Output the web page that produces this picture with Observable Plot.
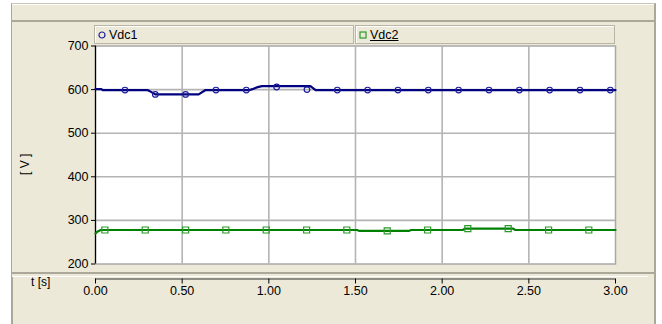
<!DOCTYPE html>
<html>
<head>
<meta charset="utf-8">
<script src="https://cdn.jsdelivr.net/npm/d3@7"></script>
<script src="https://cdn.jsdelivr.net/npm/@observablehq/plot@0.6"></script>
<style>
  html, body { margin: 0; padding: 0; background: #ffffff; }
  #wrap { position: relative; width: 662px; height: 324px; overflow: hidden; font-family: "Liberation Sans", Arial, sans-serif; }
  .abs { position: absolute; box-sizing: border-box; }
  #chart { position: absolute; left: 0; top: 0; }
  .leg { position: absolute; box-sizing: border-box; height: 19px; top: 25px; background: #ECE9D8;
         border: 1px solid #b9b5a6; box-shadow: inset 1px 1px 0 #ffffff; font-size: 12.5px; color: #000; }
  .leg svg { position: absolute; left: 3px; top: 5px; }
  .leg span { position: absolute; left: 14px; top: 2px; }
</style>
</head>
<body>
<div id="wrap">
  <!-- outer frame -->
  <div class="abs" style="left:11px;top:3px;width:645px;height:330px;background:#ECE9D8;border-left:1px solid #ACA899;border-top:1px solid #c9c6b8;border-right:2px solid #ACA899;"></div>
  <!-- top strip -->
  <div class="abs" style="left:12px;top:4px;width:642px;height:18px;border-top:1px solid #ffffff;border-bottom:2px solid #ACA899;"></div>
  <!-- main panel bottom border -->
  <div class="abs" style="left:12px;top:272px;width:642px;height:2px;background:#ACA899;"></div>
  <!-- lower panel top highlight -->
  <div class="abs" style="left:12px;top:276px;width:636px;height:1px;background:#ffffff;"></div>
  <div class="abs" style="left:12px;top:277px;width:1px;height:50px;background:#ACA899;"></div>

  <div class="leg" style="left:94px;width:260px;">
    <svg width="8" height="8"><circle cx="4" cy="4" r="3" fill="none" stroke="#1c1c9c" stroke-width="1.2"/></svg>
    <span>Vdc1</span>
  </div>
  <div class="leg" style="left:355px;width:260px;">
    <svg width="8" height="8"><rect x="1" y="1" width="6" height="6" fill="none" stroke="#2a9a2a" stroke-width="1.2"/></svg>
    <span style="text-decoration:underline;">Vdc2</span>
  </div>

  <div class="abs" style="left:18px;top:159px;width:14px;font-size:12px;color:#000;">
    <div style="transform:rotate(-90deg);transform-origin:0 0;position:absolute;left:0;top:16px;white-space:nowrap;">[ V ]</div>
  </div>
  <div class="abs" style="left:31px;top:275px;font-size:12px;color:#000;white-space:nowrap;">t [s]</div>

  <div id="chart"></div>
</div>
<script>
// ---- data ----
const xTicks = [0, 0.5, 1.0, 1.5, 2.0, 2.5, 3.0];
const xTickLabels = ["0.00", "0.50", "1.00", "1.50", "2.00", "2.50", "3.00"];
const yTicks = [200, 300, 400, 500, 600, 700];

// Vdc1 trace (step-like)
const vdc1T = [0, 0.035, 0.04, 0.30, 0.31, 0.345, 0.595, 0.635, 0.89, 0.905, 0.93, 0.96, 1.24, 1.27, 3.0];
const vdc1V = [601, 601, 599, 599, 597, 589, 589, 599, 599, 601, 605, 608, 608, 599, 599];
// Vdc1 markers
const vdc1MT = [0.17, 0.345, 0.52, 0.695, 0.87, 1.045, 1.22, 1.395, 1.57, 1.745, 1.92, 2.095, 2.27, 2.445, 2.62, 2.795, 2.97];
const vdc1MV = [599, 589, 589, 599, 599, 606, 600, 599, 599, 599, 599, 599, 599, 599, 599, 599, 599];

// Vdc2 trace
const vdc2T = [0, 0.01, 0.03, 1.51, 1.52, 1.81, 1.82, 2.12, 2.13, 2.41, 2.42, 3.0];
const vdc2V = [270, 274, 278, 278, 276, 276, 278, 278, 281, 281, 278, 278];
// Vdc2 markers
const vdc2MT = [0.054, 0.287, 0.52, 0.752, 0.985, 1.218, 1.45, 1.683, 1.916, 2.148, 2.381, 2.614, 2.846];
const vdc2MV = [278, 278, 278, 278, 278, 278, 278, 276, 278, 281, 281, 278, 278];

const line1 = vdc1T.map((t, i) => ({t, v: vdc1V[i]}));
const mark1 = vdc1MT.map((t, i) => ({t, v: vdc1MV[i]}));
const line2 = vdc2T.map((t, i) => ({t, v: vdc2V[i]}));
const mark2 = vdc2MT.map((t, i) => ({t, v: vdc2MV[i]}));

const fmtX = d => xTickLabels[xTicks.indexOf(d)];
const axisDy = 15;

const chart = Plot.plot({
  width: 662,
  height: 324,
  marginLeft: 95,
  marginRight: 47,
  marginTop: 45.5,
  marginBottom: 60.5,
  style: { background: "transparent", fontFamily: "Liberation Sans, Arial, sans-serif", fontSize: "12px", color: "#000" },
  x: { domain: [0, 3] },
  y: { domain: [200, 700] },
  marks: [
    Plot.frame({ fill: "#ffffff", stroke: "#a8a8a8", strokeWidth: 1.5 }),
    Plot.gridX(xTicks.slice(1, -1), { stroke: "#b4b4b4", strokeOpacity: 1, strokeWidth: 1.6 }),
    Plot.gridY(yTicks.slice(1, -1), { stroke: "#b4b4b4", strokeOpacity: 1, strokeWidth: 1.6 }),
    Plot.ruleX([0], { stroke: "#000", strokeWidth: 1.2 }),
    Plot.axisY({ ticks: yTicks, tickSize: 4, tickPadding: 3, label: null, fontSize: 12.5, stroke: "#000" }),
    Plot.ruleY([200], { dy: axisDy, stroke: "#333", strokeWidth: 1.2 }),
    Plot.axisX({ ticks: xTicks, tickFormat: fmtX, tickSize: 5, tickPadding: 2, dy: axisDy, label: null, fontSize: 12.5, stroke: "#000" }),
    Plot.line(line1, { x: "t", y: "v", stroke: "#000080", strokeWidth: 2.2 }),
    Plot.dot(mark1, { x: "t", y: "v", r: 2.8, stroke: "#1c1c9c", strokeWidth: 1.2, fill: "none" }),
    Plot.line(line2, { x: "t", y: "v", stroke: "#008000", strokeWidth: 2.2 }),
    Plot.dot(mark2, { x: "t", y: "v", symbol: "square", r: 3.4, stroke: "#2a9a2a", strokeWidth: 1.2, fill: "none" })
  ]
});
document.getElementById("chart").appendChild(chart);
</script>
</body>
</html>
